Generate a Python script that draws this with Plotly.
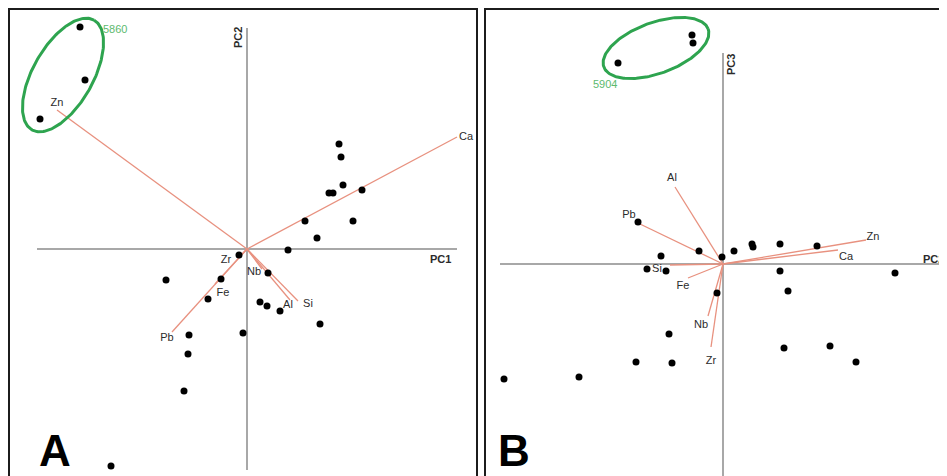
import numpy as np
import plotly.graph_objects as go

# ---------------- Panel A : PC1 vs PC2 ----------------
a_scores_x = [-3.34, -3.24, -4.14, 1.84, 1.88, 1.92, 1.64, 1.72, 2.30, 1.16, 2.12, 1.40, 0.82,
              -0.16, -1.62, -0.52, -0.78, 0.42, 0.26, 0.40, 0.66, 1.46, -1.16, -0.08, -1.18, -1.26, -2.72]
a_scores_y = [4.44, 3.38, 2.60, 2.10, 1.84, 1.28, 1.12, 1.12, 1.18, 0.56, 0.56, 0.22, -0.02,
              -0.12, -0.62, -0.60, -1.00, -0.48, -1.06, -1.14, -1.24, -1.50, -1.72, -1.68, -2.10, -2.84, -4.34]

a_vars = ["Zn", "Ca", "Pb", "Fe", "Zr", "Nb", "Al", "Si"]
a_load_x = [-3.80, 4.20, -1.50, -0.64, -0.14, 0.30, 0.86, 1.02]
a_load_y = [2.78, 2.24, -1.66, -0.70, -0.14, -0.40, -1.02, -1.04]
a_lab_x = [-3.80, 4.38, -1.60, -0.48, -0.42, 0.14, 0.82, 1.22]
a_lab_y = [2.92, 2.24, -1.78, -0.88, -0.22, -0.46, -1.12, -1.10]

# ---------------- Panel B : PC2 vs PC3 ----------------
b_scores_x = [-2.10, -0.62, -0.60, -1.70, -0.48, -0.02, 0.22, 0.58, 0.60, 1.14, 1.88, -1.24, -1.52,
              -1.14, -0.12, 1.14, 3.44, 1.30, -1.08, -1.74, -1.02, 1.22, 2.14, 2.66, -4.38, -2.88, 4.48]
b_scores_y = [4.02, 4.58, 4.42, 0.84, 0.26, 0.14, 0.26, 0.40, 0.34, 0.40, 0.36, 0.16, -0.10,
              -0.14, -0.58, -0.14, -0.18, -0.54, -1.40, -1.96, -1.98, -1.68, -1.64, -1.96, -2.30, -2.26, 0.52]

b_vars = ["Al", "Pb", "Si", "Fe", "Nb", "Zr", "Zn", "Ca"]
b_load_x = [-0.96, -1.66, -1.06, -0.70, -0.30, -0.24, 2.86, 2.30]
b_load_y = [1.54, 0.80, -0.02, -0.28, -1.04, -1.66, 0.48, 0.28]
b_lab_x = [-1.02, -1.88, -1.32, -0.80, -0.44, -0.24, 3.00, 2.46]
b_lab_y = [1.72, 0.98, -0.10, -0.44, -1.22, -1.94, 0.54, 0.14]

# group ellipses: (centre x, centre y, semi-major, semi-minor, angle deg), label
ell_a = (-3.68, 3.48, 1.26, 0.60, 60.5)
ell_b = (-1.34, 4.32, 1.11, 0.51, 20.0)
group_a_label, group_b_label = "5860", "5904"

# page is rendered with an 8px body margin -> figure is 8px smaller and all page pixels shift by 8
OFF = 8
W, H = 947 - OFF, 476 - OFF
LOAD_COL = "#e8917f"
AXIS_COL = "#a8a8a8"
GREEN = "#2ea44f"
TXT = "#2b2b2b"
FONT = "Liberation Sans, Arial, sans-serif"


def px(x):
    return (x - OFF) / W


def py(y):
    return 1 - (y - OFF) / H


def loading_lines(xs, ys):
    lx, ly = [], []
    for x, y in zip(xs, ys):
        lx += [0, x, None]
        ly += [0, y, None]
    return lx, ly


def ellipse(cx, cy, a, b, ang):
    t = np.linspace(0, 2 * np.pi, 200)
    th = np.deg2rad(ang)
    ex = cx + a * np.cos(t) * np.cos(th) - b * np.sin(t) * np.sin(th)
    ey = cy + a * np.cos(t) * np.sin(th) + b * np.sin(t) * np.cos(th)
    return ex, ey


fig = go.Figure()

# axis cross lines
fig.add_trace(go.Scatter(x=[-4.2, 4.2, None, 0, 0], y=[0, 0, None, 4.42, -4.42], mode="lines",
                         line=dict(color=AXIS_COL, width=2), xaxis="x", yaxis="y", hoverinfo="skip"))
fig.add_trace(go.Scatter(x=[-4.46, 4.6, None, 0, 0], y=[0, 0, None, 4.22, -4.4], mode="lines",
                         line=dict(color=AXIS_COL, width=2), xaxis="x2", yaxis="y2", hoverinfo="skip"))

# loadings
lx, ly = loading_lines(a_load_x, a_load_y)
fig.add_trace(go.Scatter(x=lx, y=ly, mode="lines", line=dict(color=LOAD_COL, width=1.3),
                         xaxis="x", yaxis="y", hoverinfo="skip"))
lx, ly = loading_lines(b_load_x, b_load_y)
fig.add_trace(go.Scatter(x=lx, y=ly, mode="lines", line=dict(color=LOAD_COL, width=1.3),
                         xaxis="x2", yaxis="y2", hoverinfo="skip"))

# ellipses
ex, ey = ellipse(*ell_a)
fig.add_trace(go.Scatter(x=ex, y=ey, mode="lines", line=dict(color=GREEN, width=3),
                         xaxis="x", yaxis="y", hoverinfo="skip"))
ex, ey = ellipse(*ell_b)
fig.add_trace(go.Scatter(x=ex, y=ey, mode="lines", line=dict(color=GREEN, width=3),
                         xaxis="x2", yaxis="y2", hoverinfo="skip"))

# scores
fig.add_trace(go.Scatter(x=a_scores_x, y=a_scores_y, mode="markers",
                         marker=dict(color="black", size=7), xaxis="x", yaxis="y"))
fig.add_trace(go.Scatter(x=b_scores_x, y=b_scores_y, mode="markers",
                         marker=dict(color="black", size=7), xaxis="x2", yaxis="y2"))

# variable labels
fig.add_trace(go.Scatter(x=a_lab_x, y=a_lab_y, text=a_vars, mode="text",
                         textfont=dict(family=FONT, size=11, color=TXT), xaxis="x", yaxis="y"))
fig.add_trace(go.Scatter(x=b_lab_x, y=b_lab_y, text=b_vars, mode="text",
                         textfont=dict(family=FONT, size=11, color=TXT), xaxis="x2", yaxis="y2"))

ann = []
# axis names
ann.append(dict(x=3.86, y=-0.20, xref="x", yref="y", text="<b>PC1</b>", showarrow=False,
                font=dict(family=FONT, size=11, color=TXT)))
ann.append(dict(x=-0.18, y=4.22, xref="x", yref="y", text="<b>PC2</b>", showarrow=False,
                textangle=-90, font=dict(family=FONT, size=11, color=TXT)))
ann.append(dict(x=4.46, y=0.10, xref="x2", yref="y2", text="<b>PC2</b>", showarrow=False,
                xanchor="right", font=dict(family=FONT, size=11, color=TXT)))
ann.append(dict(x=0.16, y=3.98, xref="x2", yref="y2", text="<b>PC3</b>", showarrow=False,
                textangle=-90, font=dict(family=FONT, size=11, color=TXT)))
# group labels
ann.append(dict(x=-2.64, y=4.40, xref="x", yref="y", text=group_a_label, showarrow=False,
                font=dict(family=FONT, size=11, color="#5dba6e")))
ann.append(dict(x=-2.36, y=3.60, xref="x2", yref="y2", text=group_b_label, showarrow=False,
                font=dict(family=FONT, size=11, color="#5dba6e")))
# panel letters
ann.append(dict(x=px(37), y=py(450), xref="paper", yref="paper", yanchor="middle", text="<b>A</b>",
                showarrow=False, font=dict(family=FONT, size=44, color="black")))
ann.append(dict(x=px(514), y=py(450), xref="paper", yref="paper", yanchor="middle", text="<b>B</b>",
                showarrow=False, font=dict(family=FONT, size=44, color="black")))

top = py(9)
frame = dict(color="#1c1c1c", width=2)
shapes = [
    dict(type="line", xref="paper", yref="paper", x0=px(9), x1=px(9), y0=-0.01, y1=top, line=frame),
    dict(type="line", xref="paper", yref="paper", x0=px(477), x1=px(477), y0=-0.01, y1=top, line=frame),
    dict(type="line", xref="paper", yref="paper", x0=px(8), x1=px(478), y0=top, y1=top, line=frame),
    dict(type="line", xref="paper", yref="paper", x0=px(485), x1=px(485), y0=-0.01, y1=top, line=frame),
    dict(type="line", xref="paper", yref="paper", x0=px(484), x1=1.01, y0=top, y1=top, line=frame),
]

axcommon = dict(showgrid=False, zeroline=False, showticklabels=False, ticks="", showline=False, fixedrange=True)
fig.update_layout(
    width=W, height=H, autosize=False,
    margin=dict(l=0, r=0, t=0, b=0),
    paper_bgcolor="white", plot_bgcolor="white",
    showlegend=False,
    xaxis=dict(domain=[px(8), px(477)], range=[-4.78, 4.60], **axcommon),
    yaxis=dict(domain=[0, top], range=[-4.54, 4.80], **axcommon),
    xaxis2=dict(domain=[px(485), 1], range=[-4.76, 4.48], anchor="y2", **axcommon),
    yaxis2=dict(domain=[0, top], range=[-4.24, 5.10], anchor="x2", **axcommon),
    annotations=ann, shapes=shapes,
)

fig.write_html("out.html")
